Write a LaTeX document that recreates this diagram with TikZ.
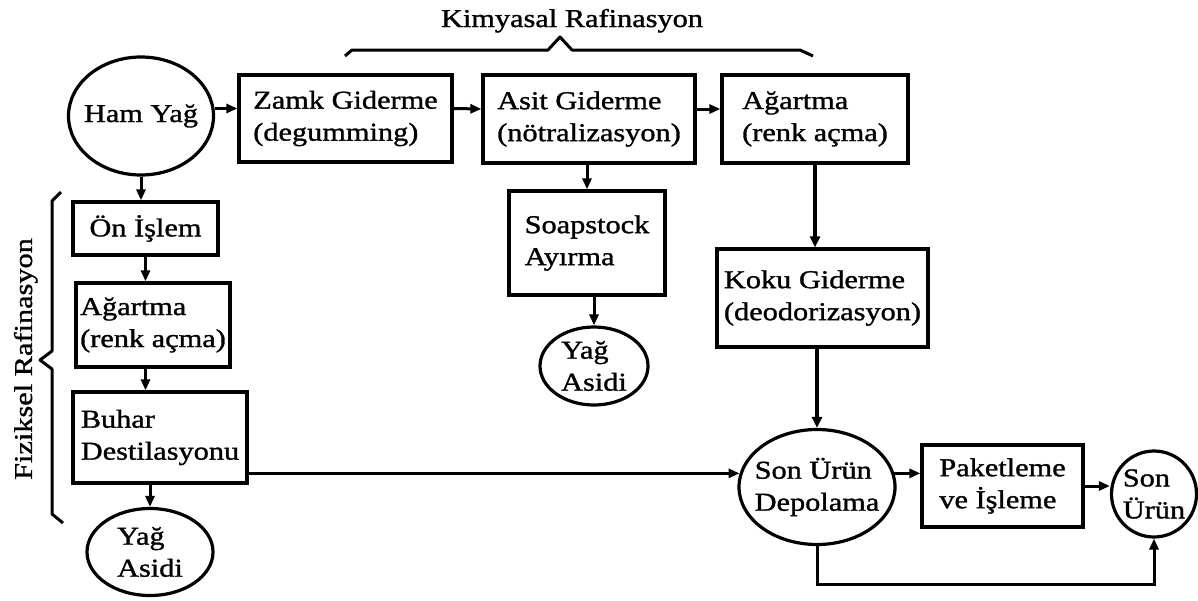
\documentclass[tikz,border=0pt]{standalone}
\usepackage{fontspec}
\setmainfont[FakeStretch=1.18,FakeBold=1.2]{Liberation Serif}
\usetikzlibrary{arrows.meta,shapes.geometric,calc}
\begin{document}
\begin{tikzpicture}[x=0.5pt,y=-0.5pt,
  font=\fontsize{12.85pt}{16pt}\selectfont,
  box/.style={draw,line width=1.6pt,inner sep=0pt,align=left},
  ell/.style={draw,ellipse,line width=1.6pt,inner sep=0pt},
  lbl/.style={align=left,inner sep=0pt},
  arr/.style={line width=1.5pt,-{Triangle[length=5.5pt,width=4.5pt]}},
  thickarr/.style={line width=2.4pt,-{Triangle[length=5.5pt,width=5pt]}},
  brace/.style={line width=1.5pt,line join=round}]
\useasboundingbox (0,0) rectangle (1198,600);

% nodes
\node[ell,minimum width=72.5pt,minimum height=59pt,label={[lbl]center:Ham Yağ}] (ham) at (141,116) {};
\node[box,minimum width=106.5pt,minimum height=43.5pt] (zamk) at (345.5,118.5) {Zamk Giderme\\(degumming)};
\node[box,minimum width=106pt,minimum height=44pt] (asit) at (589,119) {Asit Giderme\\(nötralizasyon)};
\node[box,minimum width=93pt,minimum height=44pt] (ag1) at (815,119) {Ağartma\\(renk açma)};
\node[box,minimum width=72.5pt,minimum height=26.5pt] (on) at (145.5,228.5) {Ön İşlem};
\node[box,minimum width=77pt,minimum height=42pt] (ag2) at (153,325) {Ağartma\\(renk açma)};
\node[box,minimum width=87pt,minimum height=45.5pt] (buhar) at (160,437.5) {Buhar\\Destilasyonu};
\node[ell,minimum width=63pt,minimum height=43.5pt,label={[lbl]center:Yağ\\Asidi}] (yag1) at (150,552) {};
\node[box,minimum width=78pt,minimum height=52pt] (soap) at (587,243) {Soapstock\\Ayırma};
\node[ell,minimum width=54pt,minimum height=39pt,label={[lbl]center:Yağ\\Asidi}] (yag2) at (594,366) {};
\node[box,minimum width=105.5pt,minimum height=49pt] (koku) at (822.5,298) {Koku Giderme\\(deodorizasyon)};
\node[ell,minimum width=78pt,minimum height=57.5pt,label={[lbl]center:Son Ürün\\Depolama}] (depo) at (817,487) {};
\node[box,minimum width=80.5pt,minimum height=41pt] (paket) at (1002.5,486) {Paketleme\\ve İşleme};
\node[ell,minimum width=42.5pt,minimum height=43pt,label={[lbl]center:Son\\Ürün}] (son) at (1154,494) {};

\node[anchor=base] (kim) at (572,27) {Kimyasal Rafinasyon};
\node[anchor=base,rotate=90] (fiz) at (32,359) {Fiziksel Rafinasyon};

% braces
\draw[brace] (345,56) -- (352,50) -- (548,50) -- (560,37) -- (572,50) -- (800,50) -- (813,56);
\draw[brace] (61,192) -- (52,201) -- (52,351) -- (40,360) -- (52,369) -- (52,514) -- (63,523);

% connectors
\path ([yshift=5pt]zamk.west) coordinate (z1);
\draw[arr] (z1 -| ham.east) -- (z1);
\draw[arr] ([yshift=5pt]zamk.east) -- ([yshift=5pt]asit.west);
\draw[arr] ([yshift=5pt]asit.east) -- ([yshift=5pt]ag1.west);
\draw[arr] (ham.south) -- (ham.south |- on.north);
\draw[arr] (on.south) -- (on.south |- ag2.north);
\draw[arr] (ag2.south -| on.south) -- (buhar.north -| on.south);
\draw[arr] (buhar.south -| yag1.north) -- (yag1.north);
\draw[arr] (asit.south -| soap.north) -- (soap.north);
\draw[arr] (soap.south -| yag2.north) -- (yag2.north);
\draw[thickarr] (ag1.south) -- (ag1.south |- koku.north);
\draw[thickarr] (koku.south -| depo.north) -- (depo.north);
\draw[arr] (depo.170 -| buhar.east) -- (depo.170);
\draw[arr] (depo.10) -- (depo.10 -| paket.west);
\draw[arr] (paket.east) -- (paket.east -| son.west);
\coordinate (bot) at (0,584);
\draw[arr] (depo.south) -- (depo.south |- bot) -| (son.south);
\end{tikzpicture}
\end{document}
